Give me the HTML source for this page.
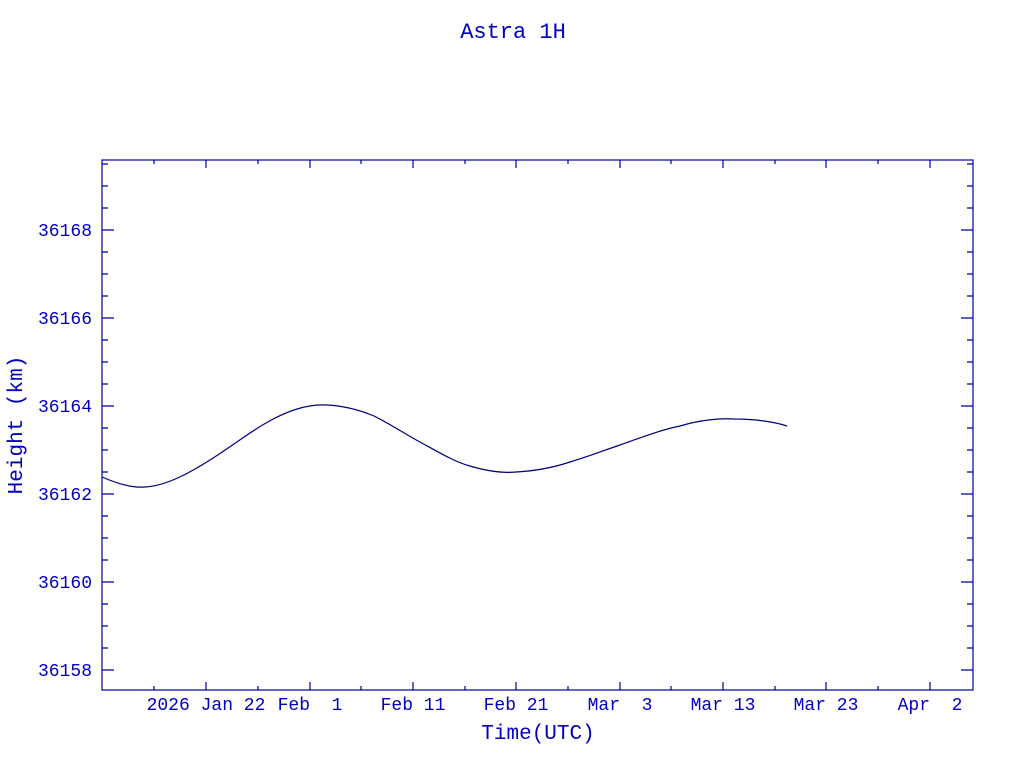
<!DOCTYPE html>
<html><head><style>body{margin:0;background:#fff}svg{display:block}text{font-family:"Liberation Mono",monospace;fill:#0000c0;white-space:pre}</style></head><body>
<svg width="1024" height="768" xmlns="http://www.w3.org/2000/svg">
<g stroke="#0000a0" stroke-width="1.2" fill="none">
<rect x="102" y="160" width="871" height="530"/>
<path d="M102,230h12M102,318h12M102,406h12M102,494h12M102,582h12M102,670h12M973,230h-12M973,318h-12M973,406h-12M973,494h-12M973,582h-12M973,670h-12
M102,164h6M102,186h6M102,208h6M102,252h6M102,274h6M102,296h6M102,340h6M102,362h6M102,384h6M102,428h6M102,450h6M102,472h6M102,516h6M102,538h6M102,560h6M102,604h6M102,626h6M102,648h6
M973,164h-6M973,186h-6M973,208h-6M973,252h-6M973,274h-6M973,296h-6M973,340h-6M973,362h-6M973,384h-6M973,428h-6M973,450h-6M973,472h-6M973,516h-6M973,538h-6M973,560h-6M973,604h-6M973,626h-6M973,648h-6
M206,690v-8M310,690v-8M413,690v-8M516,690v-8M620,690v-8M723,690v-8M826,690v-8M930,690v-8
M206,160v8M310,160v8M413,160v8M516,160v8M620,160v8M723,160v8M826,160v8M930,160v8
M154,690v-4M258,690v-4M361,690v-4M465,690v-4M568,690v-4M671,690v-4M775,690v-4M878,690v-4
M154,160v4M258,160v4M361,160v4M465,160v4M568,160v4M671,160v4M775,160v4M878,160v4"/>
<path stroke="#000080" d="M102,477 C118,484 132,488 145,487 C165,486 188,474 210,460 C232,446 250,432 266,423 C290,409 310,404 327,405 C347,406 362,411 374,416 C392,425 405,434 420,442 C440,453 455,462 470,466 C490,472 505,473 516,472 C535,471 555,467 570,462 C590,456 605,450 620,445 C640,438 660,430 680,426 C700,420 720,418 735,419 C755,419 775,422 787,426"/>
</g>
<text x="513" y="38" text-anchor="middle" style="font-size:22px">Astra 1H</text>
<g text-anchor="end" style="font-size:18px"><text x="92" y="236">36168</text><text x="92" y="324">36166</text><text x="92" y="412">36164</text><text x="92" y="500">36162</text><text x="92" y="588">36160</text><text x="92" y="676">36158</text></g>
<g text-anchor="middle" style="font-size:18px"><text x="206" y="710">2026 Jan 22</text><text x="310" y="710">Feb  1</text><text x="413" y="710">Feb 11</text><text x="516" y="710">Feb 21</text><text x="620" y="710">Mar  3</text><text x="723" y="710">Mar 13</text><text x="826" y="710">Mar 23</text><text x="930" y="710">Apr  2</text></g>
<text x="538" y="739" text-anchor="middle" style="font-size:21px">Time(UTC)</text>
<text transform="translate(22,425) rotate(-90)" text-anchor="middle" style="font-size:21px">Height (km)</text>
</svg></body></html>
